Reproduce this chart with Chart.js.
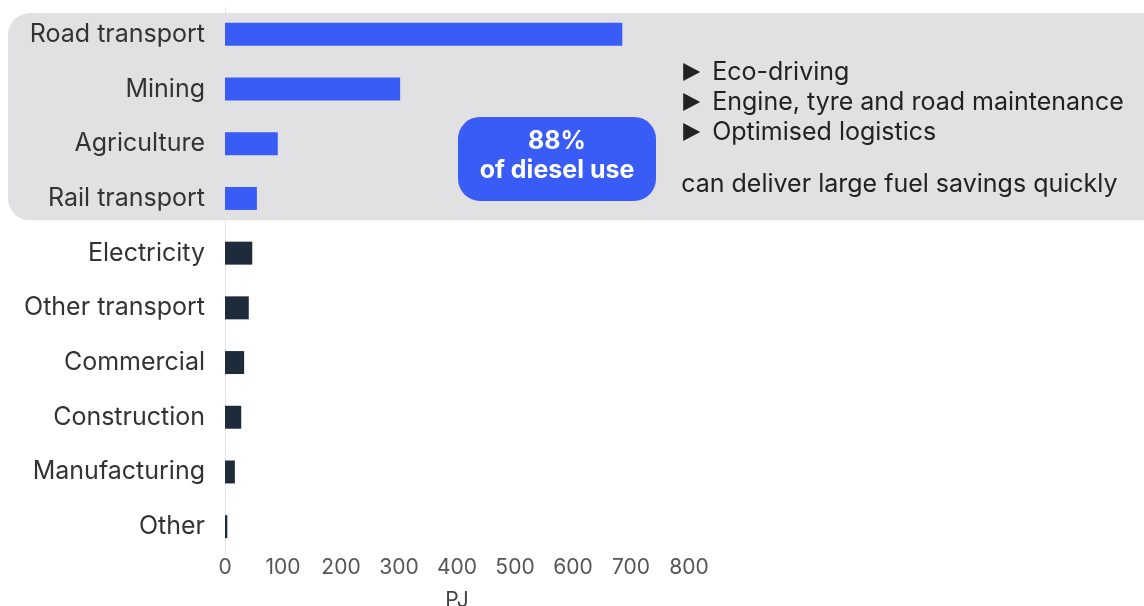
<!DOCTYPE html>
<html>
<head>
<meta charset="utf-8">
<script src="https://cdn.jsdelivr.net/npm/chart.js@4"></script>
<style>
  html, body { margin: 0; padding: 0; background: #fff; }
  #wrap { width: 1144px; height: 606px; position: relative; }
</style>
</head>
<body>
<div id="wrap"><canvas id="chart" width="1144" height="606"></canvas></div>
<script>
// diesel use by sector, PJ
const sectors = ['Road transport', 'Mining', 'Agriculture', 'Rail transport', 'Electricity',
    'Other transport', 'Commercial', 'Construction', 'Manufacturing', 'Other'];
const dieselPJ = [685, 302, 91, 55, 47, 41, 33, 28, 17, 4];
const highlighted = 4; // first four sectors make up the 88%
const xTicks = [0, 100, 200, 300, 400, 500, 600, 700, 800];
const badgeLines = ['88%', 'of diesel use'];
const bulletLines = ['Eco-driving', 'Engine, tyre and road maintenance', 'Optimised logistics'];
const noteLine = 'can deliver large fuel savings quickly';

const BLUE = '#3a5cf6';
const DARK = '#1e2b3b';
const FONT = 'Inter, "Noto Sans", sans-serif';

function roundRect(ctx, x, y, w, h, r) {
    ctx.beginPath();
    ctx.moveTo(x + r, y);
    ctx.lineTo(x + w - r, y);
    ctx.arcTo(x + w, y, x + w, y + r, r);
    ctx.lineTo(x + w, y + h - r);
    ctx.arcTo(x + w, y + h, x + w - r, y + h, r);
    ctx.lineTo(x + r, y + h);
    ctx.arcTo(x, y + h, x, y + h - r, r);
    ctx.lineTo(x, y + r);
    ctx.arcTo(x, y, x + r, y, r);
    ctx.closePath();
}

const highlightBox = {
    id: 'highlightBox',
    beforeDraw(chart) {
        const ctx = chart.ctx;
        const y = chart.scales.y;
        const step = y.getPixelForValue(1) - y.getPixelForValue(0);
        const top = y.getPixelForValue(0) - step * 0.39;
        const bottom = y.getPixelForValue(highlighted - 1) + step * 0.4;
        ctx.save();
        ctx.fillStyle = '#e1e1e3';
        roundRect(ctx, 8, top, chart.width + 40, bottom - top, 22);
        ctx.fill();
        ctx.restore();
    },
    afterDraw(chart) {
        const ctx = chart.ctx;
        const x = chart.scales.x;
        const y = chart.scales.y;
        const step = y.getPixelForValue(1) - y.getPixelForValue(0);

        // blue badge
        const bx = x.getPixelForValue(400) + 1;
        const bw = 198;
        const by = y.getPixelForValue(2) - step * 0.49;
        const bh = 84;
        ctx.save();
        ctx.fillStyle = BLUE;
        roundRect(ctx, bx, by, bw, bh, 22);
        ctx.fill();
        ctx.fillStyle = '#fff';
        ctx.textAlign = 'center';
        ctx.textBaseline = 'middle';
        ctx.font = 'bold 25px ' + FONT;
        ctx.fillText(badgeLines[0], bx + bw / 2, by + 25);
        ctx.fillText(badgeLines[1], bx + bw / 2, by + 54);

        // bullet list
        const tx = x.getPixelForValue(790);
        ctx.textAlign = 'left';
        ctx.fillStyle = '#222';
        ctx.font = '25px ' + FONT;
        bulletLines.forEach(function(line, i) {
            const ly = 72 + i * 30;
            ctx.beginPath();
            ctx.moveTo(tx, ly - 9);
            ctx.lineTo(tx + 17, ly);
            ctx.lineTo(tx, ly + 9);
            ctx.closePath();
            ctx.fill();
            ctx.fillText(line, tx + 29, ly);
        });
        ctx.fillText(noteLine, tx - 2, 184);
        ctx.restore();
    }
};

const ctx = document.getElementById('chart').getContext('2d');
const chart = new Chart(ctx, {
    type: 'bar',
    data: {
        labels: sectors,
        datasets: [{
            data: dieselPJ,
            backgroundColor: dieselPJ.map((v, i) => i < highlighted ? BLUE : DARK),
            barPercentage: 0.84,
            categoryPercentage: 0.5
        }]
    },
    options: {
        indexAxis: 'y',
        responsive: false,
        animation: false,
        layout: { padding: { top: 7, right: 455, left: 0, bottom: 0 } },
        plugins: { legend: { display: false }, tooltip: { enabled: false } },
        scales: {
            x: {
                min: 0,
                max: 800,
                afterBuildTicks: function(scale) {
                    scale.ticks = xTicks.map(v => ({ value: v }));
                },
                afterFit: function(scale) { scale.height = 52; },
                grid: { display: false, drawTicks: false },
                border: { display: false },
                ticks: { color: '#555', font: { family: FONT, size: 21 }, padding: 1 },
                title: { display: true, text: 'PJ', color: '#444', font: { family: FONT, size: 21 }, padding: { top: 2, bottom: -7 } }
            },
            y: {
                afterFit: function(scale) {
                    scale.width = 225;
                    scale.paddingTop = 0;
                    scale.paddingBottom = 0;
                },
                grid: { display: false, drawTicks: false },
                border: { display: true, color: '#e4e4e8', width: 1 },
                ticks: { color: '#333', font: { family: FONT, size: 25 }, padding: 20 }
            }
        }
    },
    plugins: [highlightBox]
});
</script>
</body>
</html>
